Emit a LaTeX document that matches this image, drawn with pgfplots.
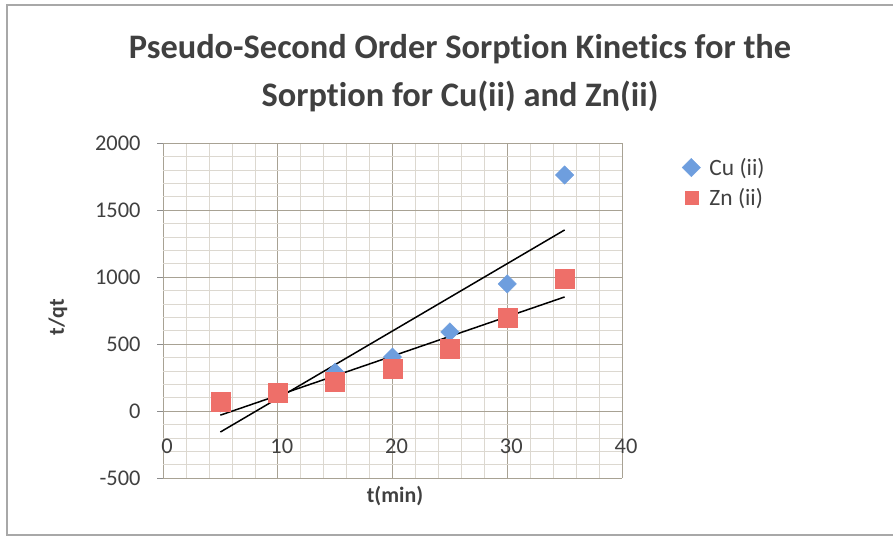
\documentclass[border=0pt]{standalone}
\usepackage{pgfplots}
\pgfplotsset{compat=1.18}
\usepackage{fontspec}
\setmainfont{Carlito}[Ligatures={NoCommon}]
\definecolor{gridmajor}{HTML}{A8A294}
\definecolor{gridminor}{HTML}{DCD8D0}
\definecolor{axisgray}{HTML}{8C8C8C}
\definecolor{txt}{HTML}{404040}
\definecolor{cublue}{HTML}{6E9EDE}
\definecolor{znred}{HTML}{EE6F69}
\definecolor{frame}{HTML}{A8A8A8}
\begin{document}
\begin{tikzpicture}[x=1bp,y=1bp]
\useasboundingbox (0,0) rectangle (893,542);
\draw[frame, line width=1.5bp] (7,7) rectangle (905,537);
\node[font=\fontsize{34.5}{48}\selectfont\bfseries, text=txt, align=center] at (460,469)
  {Pseudo-Second Order Sorption Kinetics for the\\Sorption for Cu(ii) and Zn(ii)};
\node[font=\fontsize{22}{24}\selectfont\bfseries, text=txt, rotate=90] at (58,225) {t/qt};
\node[font=\fontsize{22}{24}\selectfont\bfseries, text=txt] at (395,46) {t(min)};
\begin{axis}[
  at={(163bp,64bp)}, anchor=south west, scale only axis,
  width=459bp, height=335bp,
  xmin=0, xmax=40, ymin=-500, ymax=2000,
  axis line style={draw=none},
  xtick={0,10,...,40}, ytick={-500,0,...,2000},
  minor x tick num=4, minor y tick num=4,
  grid=both,
  major grid style={gridmajor, line width=0.8bp},
  minor grid style={gridminor, line width=0.5bp},
  minor tick length=0pt,
  xtick pos=bottom, ytick pos=left,
  x tick style={draw=none},
  y tick style={draw=axisgray, line width=0.8bp},
  major tick length=6bp,
  tick align=outside,
  /pgf/number format/assume math mode=true,
  /pgf/number format/set thousands separator={},
  ticklabel style={font=\fontsize{22.5}{24}\selectfont, text=txt},
  xticklabel style={yshift=49bp, xshift=4bp},
  yticklabel style={xshift=-13bp},
  legend style={at={(rel axis cs:1.124,0.967)}, anchor=north west, draw=none, fill=none,
    font=\fontsize{23.5}{26}\selectfont, text=txt, row sep=8bp},
  legend image post style={mark size=6.5bp},
  legend cell align=left,
  clip=false,
]
\addplot[only marks, mark=square*, mark size=6.5bp, color=cublue, mark options={draw=cublue, fill=cublue, rotate=45}]
  coordinates {(5,60) (10,130) (15,290) (20,403) (25,590) (30,948) (35,1761)};
\addlegendentry{\hspace{7bp}Cu (ii)}
\addplot[only marks, mark=square*, mark size=9.5bp, color=znred, mark options={draw=znred, fill=znred}]
  coordinates {(5,67) (10,134) (15,216) (20,313) (25,463) (30,694) (35,985)};
\addlegendentry{\hspace{7bp}Zn (ii)}
\addplot[black, line width=1.5bp, forget plot] coordinates {(5,-157) (35,1351)};
\addplot[black, line width=1.5bp, forget plot] coordinates {(5,-31) (35,851)};
\end{axis}
\end{tikzpicture}
\end{document}
